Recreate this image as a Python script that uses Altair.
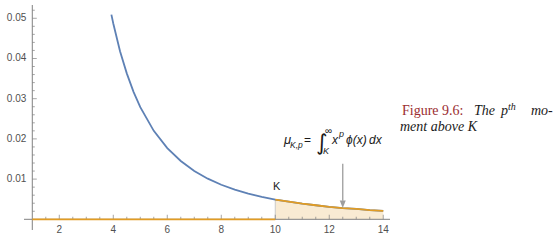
import altair as alt
import pandas as pd

# ---- data ----
curve_x = [3.93, 4.0, 4.25, 4.5, 4.75, 5.0, 5.5, 6.0, 6.5, 7.0, 7.5, 8.0, 8.5, 9.0,
           9.5, 10.0, 10.5, 11.0, 11.5, 12.0, 12.5, 13.0, 13.5, 14.0]
curve_y = [0.0509, 0.0487, 0.0418, 0.0363, 0.0317, 0.0279, 0.0220, 0.0177, 0.0145,
           0.0120, 0.0101, 0.0086, 0.0074, 0.0064, 0.0056, 0.0049, 0.0044, 0.0039,
           0.0035, 0.0031, 0.0028, 0.0026, 0.0023, 0.0021]
K = 10.0
zero_x = [1.0, 10.0]          # orange line along zero below K
arrow_x = 12.5
arrow_top = 0.0138
arrow_base = 0.0046
arrow_tip = 0.0028

x_major = [2, 4, 6, 8, 10, 12, 14]
x_minor = [1.5, 2.5, 3, 3.5, 4.5, 5, 5.5, 6.5, 7, 7.5, 8.5, 9, 9.5, 10.5, 11, 11.5,
           12.5, 13, 13.5]
y_major = [0.01, 0.02, 0.03, 0.04, 0.05]
y_major_labels = ["0.01", "0.02", "0.03", "0.04", "0.05"]
y_minor = [0.002, 0.004, 0.006, 0.008, 0.012, 0.014, 0.016, 0.018, 0.022, 0.024,
           0.026, 0.028, 0.032, 0.034, 0.036, 0.038, 0.042, 0.044, 0.046, 0.048, 0.052]

XMIN, XMAX = 0.693, 14.25
YMIN, YMAX = -0.00266, 0.0533
Y_AXIS_AT = 1.0

BLUE = "#5E81B5"
ORANGE = "#E19C24"
AXIS = "#808080"
LABEL = "#505050"

W, H = 366, 225
PADL, PADT = 24, 5

xs = alt.Scale(domain=[XMIN, XMAX], nice=False, zero=False)
ys = alt.Scale(domain=[YMIN, YMAX], nice=False, zero=False)


def X(f="x"):
    return alt.X(f, type="quantitative", scale=xs, axis=None)


def Y(f="y"):
    return alt.Y(f, type="quantitative", scale=ys, axis=None)


curve = pd.DataFrame({"x": curve_x, "y": curve_y})
upper = curve[curve.x >= K].copy()
upper["y0"] = 0.0
zero = pd.DataFrame({"x": zero_x, "y": [0.0, 0.0]})

# axis lines
x_axis_line = alt.Chart(pd.DataFrame({"x": [XMIN], "x2": [XMAX], "y": [0.0]})).mark_rule(
    color=AXIS, strokeWidth=1).encode(x=X(), x2="x2", y=Y())
y_axis_line = alt.Chart(pd.DataFrame({"x": [Y_AXIS_AT], "y": [YMIN], "y2": [YMAX]})).mark_rule(
    color=AXIS, strokeWidth=1).encode(x=X(), y=Y(), y2="y2")


def xticks(vals, length):
    df = pd.DataFrame({"x": vals, "y": [0.0] * len(vals)})
    return alt.Chart(df).mark_tick(
        orient="vertical", size=length, thickness=1, color=AXIS, yOffset=-length / 2
    ).encode(x=X(), y=Y())


def yticks(vals, length):
    df = pd.DataFrame({"y": vals, "x": [Y_AXIS_AT] * len(vals)})
    return alt.Chart(df).mark_tick(
        orient="horizontal", size=length, thickness=1, color=AXIS, xOffset=length / 2
    ).encode(x=X(), y=Y())


x_lab = alt.Chart(pd.DataFrame({"x": x_major, "y": [0.0] * len(x_major),
                                "t": [str(v) for v in x_major]})).mark_text(
    font="Liberation Sans", fontSize=10, color=LABEL, baseline="top", dy=6
).encode(x=X(), y=Y(), text="t:N")
y_lab = alt.Chart(pd.DataFrame({"y": y_major, "x": [Y_AXIS_AT] * len(y_major),
                                "t": y_major_labels})).mark_text(
    font="Liberation Sans", fontSize=10, color=LABEL, align="right", baseline="middle", dx=-6
).encode(x=X(), y=Y(), text="t:N")

# fill under the curve above K
fill = alt.Chart(upper).mark_area(color=ORANGE, opacity=0.2).encode(x=X(), y=Y(), y2="y0")
edge = alt.Chart(upper[upper.x == K]).mark_rule(color="#c9c9c9", strokeWidth=1).encode(
    x=X(), y=Y(), y2="y0")

blue = alt.Chart(curve).mark_line(color=BLUE, strokeWidth=1.8).encode(x=X(), y=Y())
orange_hi = alt.Chart(upper).mark_line(color=ORANGE, strokeWidth=1.8).encode(x=X(), y=Y())
orange_zero = alt.Chart(zero).mark_line(color=ORANGE, strokeWidth=1.8).encode(x=X(), y=Y())

# arrow
arrow_line = alt.Chart(pd.DataFrame({"x": [arrow_x], "y": [arrow_top], "y2": [arrow_base]})).mark_rule(
    color="#9d9d9d", strokeWidth=1.3).encode(x=X(), y=Y(), y2="y2")
arrow_head = alt.Chart(pd.DataFrame({"x": [arrow_x], "y": [arrow_tip]})).mark_point(
    shape="M0,0L-1,-2.5L1,-2.5Z", size=36, filled=True, color="#9d9d9d", opacity=1
).encode(x=X(), y=Y())


# text helper (page pixel positions of annotation text)
def txt(s, px, py, size, color="#1a1a1a", font="Liberation Sans", style="normal"):
    return alt.Chart(pd.DataFrame({"t": [s]})).mark_text(
        font=font, fontSize=size, fontStyle=style, color=color, align="left",
        baseline="alphabetic"
    ).encode(x=alt.value(px - PADL), y=alt.value(py - PADT), text="t:N")


texts = [
    txt("K", 273, 190, 11),
    txt("μ", 284, 144, 13, style="italic"),
    txt("K,p", 290, 148, 8.5, style="italic"),
    txt("=", 304, 144, 12),
    txt("∫", 316, 150, 22, font="DejaVu Sans"),
    txt("∞", 325, 134, 10),
    txt("K", 323, 154, 9, style="italic"),
    txt("x", 332, 144, 12, style="italic"),
    txt("p", 339, 137, 9, style="italic"),
    txt("ϕ(x)", 346, 144, 12, style="italic"),
    txt("dx", 369, 144, 12, style="italic"),
    txt("Figure 9.6:", 402, 115, 14, color="#9B2D30", font="Liberation Serif"),
    txt("The", 474, 115, 14, font="Liberation Serif", style="italic"),
    txt("p", 501, 115, 14, font="Liberation Serif", style="italic"),
    txt("th", 508, 110, 10, font="Liberation Serif", style="italic"),
    txt("mo-", 531, 115, 14, font="Liberation Serif", style="italic"),
    txt("ment above K", 400, 131, 14, font="Liberation Serif", style="italic"),
]

chart = alt.layer(
    fill, edge, x_axis_line, y_axis_line,
    xticks(x_minor, 2.5), xticks(x_major, 4.5),
    yticks(y_minor, 2.5), yticks(y_major, 4.5),
    x_lab, y_lab,
    orange_zero, blue, orange_hi,
    arrow_line, arrow_head,
    *texts
).properties(
    width=W, height=H,
    padding={"left": PADL, "top": PADT, "right": 560 - PADL - W, "bottom": 247 - PADT - H},
    autosize=alt.AutoSizeParams(type="none"),
    background="white",
).configure_view(stroke=None)

chart.save("out.html", embed_options={"renderer": "svg", "actions": False})
